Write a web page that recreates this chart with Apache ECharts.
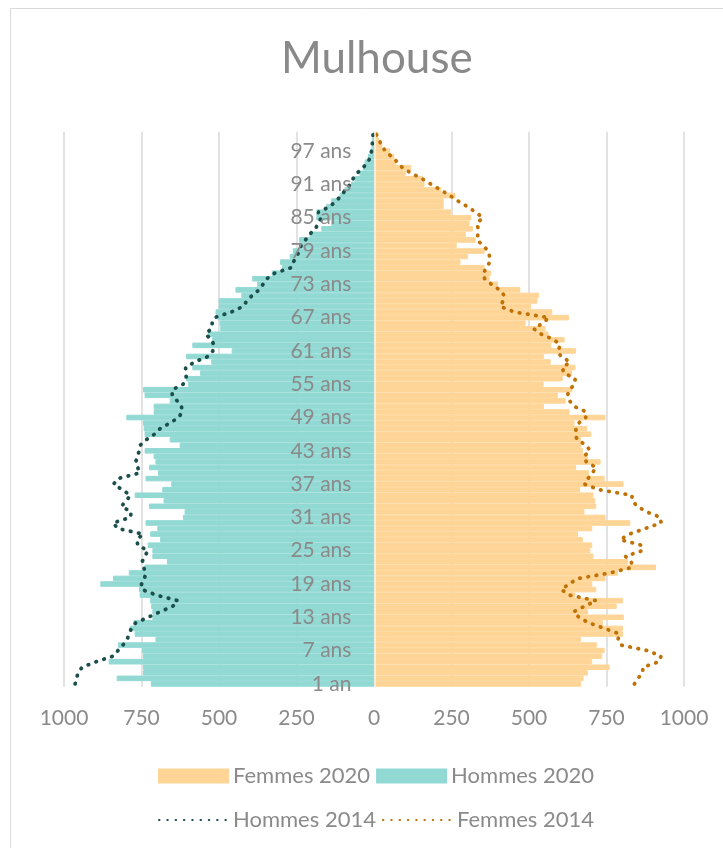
<!DOCTYPE html>
<html>
<head>
<meta charset="utf-8">
<script src="https://cdn.jsdelivr.net/npm/echarts@6/dist/echarts.min.js"></script>
<style>
  html, body { margin: 0; padding: 0; background: #fff; }
  #pyramide { width: 723px; height: 848px; }
</style>
</head>
<body>
<div id="pyramide"></div>
<script>
// ages 1 .. 100
var ages = [];
for (var i = 1; i <= 100; i++) {
  ages.push(i === 1 ? '1 an' : i + ' ans');
}

var hommes2020 = [
  720, 830, 745, 745, 856, 745, 748, 826, 705, 772,
  788, 776, 715, 715, 719, 723, 756, 758, 883, 842,
  791, 740, 668, 715, 715, 730, 690, 722, 699, 737,
  616, 611, 726, 679, 772, 683, 654, 737, 697, 726,
  705, 711, 740, 627, 659, 740, 743, 745, 799, 711,
  711, 659, 740, 745, 600, 606, 561, 586, 525, 606,
  459, 586, 522, 536, 496, 498, 504, 511, 501, 501,
  428, 447, 377, 393, 330, 297, 303, 272, 262, 242,
  242, 208, 170, 138, 186, 186, 154, 138, 111, 95,
  74, 63, 47, 36, 30, 20, 12, 8, 6, 4
];

var femmes2020 = [
  668, 676, 690, 760, 704, 736, 744, 719, 668, 803,
  803, 738, 806, 690, 783, 803, 650, 717, 704, 747,
  787, 910, 819, 708, 698, 704, 674, 658, 704, 827,
  747, 679, 717, 714, 708, 665, 805, 744, 693, 652,
  731, 690, 674, 668, 668, 701, 687, 647, 747, 631,
  548, 618, 593, 640, 547, 609, 639, 650, 570, 548,
  652, 572, 615, 563, 553, 489, 629, 575, 507, 527,
  532, 472, 400, 373, 378, 357, 279, 303, 357, 267,
  328, 296, 319, 308, 314, 249, 225, 225, 263, 217,
  163, 158, 102, 120, 72, 66, 52, 27, 16, 10
];

var hommes2014 = [
  964, 960, 954, 942, 896, 842, 826, 810, 797, 789,
  783, 769, 729, 690, 649, 633, 702, 748, 750, 740,
  737, 743, 748, 740, 729, 762, 765, 745, 826, 842,
  786, 783, 815, 799, 786, 812, 840, 826, 756, 762,
  769, 762, 758, 754, 735, 708, 690, 659, 630, 619,
  621, 635, 651, 651, 616, 606, 606, 608, 579, 536,
  520, 516, 524, 543, 525, 522, 514, 461, 423, 410,
  393, 371, 358, 346, 321, 267, 260, 251, 240, 235,
  221, 208, 189, 180, 170, 180, 143, 122, 106, 92,
  77, 68, 55, 36, 19, 12, 8, 6, 4, 3
];

var femmes2014 = [
  840, 851, 867, 867, 919, 926, 883, 797, 787, 792,
  744, 693, 661, 644, 679, 717, 631, 604, 629, 658,
  762, 833, 830, 811, 865, 862, 794, 824, 875, 926,
  924, 880, 849, 833, 832, 725, 679, 690, 704, 717,
  685, 677, 697, 685, 655, 649, 652, 660, 683, 685,
  646, 631, 624, 631, 647, 649, 613, 607, 633, 603,
  593, 601, 582, 540, 515, 545, 564, 454, 408, 416,
  420, 405, 379, 357, 352, 364, 373, 373, 369, 351,
  333, 335, 336, 332, 351, 328, 301, 271, 245, 215,
  185, 156, 121, 92, 76, 57, 37, 24, 17, 8
];

var xTicks = [-1000, 1000, 250];

var textColor = '#8a8a8a';
var gridColor = '#d9d9d9';
var orange = '#ffd597', turquoise = '#92d9d4';
var vertFonce = '#1b4f4c', orangeFonce = '#c07206';

function negatif(arr) {
  return arr.map(function (v) { return -v; });
}

var myChart = echarts.init(document.getElementById('pyramide'));

var option = {
  backgroundColor: '#fff',
  animation: false,
  textStyle: { fontFamily: 'Lato' },
  title: {
    text: 'Mulhouse',
    left: 276,
    top: 32,
    textStyle: {
      color: '#898989',
      fontSize: 44,
      fontWeight: 'normal',
      fontFamily: 'Lato'
    }
  },
  graphic: [{
    type: 'rect',
    shape: { x: 10.5, y: 8.5, width: 760, height: 900 },
    style: { fill: 'none', stroke: '#d9d9d9', lineWidth: 1 },
    silent: true
  }],
  legend: [{
    data: ['Femmes 2020', 'Hommes 2020'],
    icon: 'rect',
    left: 153,
    top: 760,
    itemWidth: 69,
    itemHeight: 13,
    itemGap: 6,
    textStyle: { color: textColor, fontSize: 22, fontFamily: 'Lato' }
  }, {
    data: [
      { name: 'Hommes 2014', itemStyle: { opacity: 0 } },
      { name: 'Femmes 2014', itemStyle: { opacity: 0 } }
    ],
    left: 153,
    top: 804,
    itemWidth: 69,
    itemHeight: 13,
    itemGap: 6,
    textStyle: { color: textColor, fontSize: 22, fontFamily: 'Lato' }
  }],
  grid: {
    left: 64,
    right: 39,
    top: 131.7,
    bottom: 161.3,
    containLabel: false,
    outerBoundsMode: 'none'
  },
  xAxis: {
    type: 'value',
    min: xTicks[0],
    max: xTicks[1],
    interval: xTicks[2],
    axisLine: { show: false },
    axisTick: { show: false },
    axisLabel: {
      color: textColor,
      fontSize: 21,
      margin: 21,
      fontFamily: 'Lato',
      formatter: function (v) { return Math.abs(v); }
    },
    splitLine: { show: true, lineStyle: { color: gridColor, width: 1.5 } }
  },
  yAxis: {
    type: 'category',
    data: ages,
    z: 10,
    position: 'left',
    offset: -310.4,
    axisLine: { show: true, onZero: false, lineStyle: { color: '#eef6f5', width: 1.5 } },
    axisTick: { show: false },
    axisLabel: {
      interval: 5,
      margin: 23,
      color: textColor,
      fontSize: 21,
      fontFamily: 'Lato'
    },
    splitLine: { show: false }
  },
  series: [{
    name: 'Femmes 2020',
    type: 'bar',
    data: femmes2020,
    barGap: '-100%',
    barCategoryGap: 0,
    itemStyle: { color: orange, borderColor: orange, borderWidth: 1 }
  }, {
    name: 'Hommes 2020',
    type: 'bar',
    data: negatif(hommes2020),
    barGap: '-100%',
    barCategoryGap: 0,
    itemStyle: { color: turquoise, borderColor: turquoise, borderWidth: 1 }
  }, {
    name: 'Hommes 2014',
    type: 'line',
    data: negatif(hommes2014),
    symbol: 'none',
    z: 5,
    itemStyle: { color: vertFonce },
    lineStyle: { color: vertFonce, width: 3.8, type: [0.5, 7.8], cap: 'round' }
  }, {
    name: 'Femmes 2014',
    type: 'line',
    data: femmes2014,
    symbol: 'none',
    z: 5,
    itemStyle: { color: orangeFonce },
    lineStyle: { color: orangeFonce, width: 3.8, type: [0.5, 7.8], cap: 'round' }
  }]
};

myChart.setOption(option);
</script>
</body>
</html>
